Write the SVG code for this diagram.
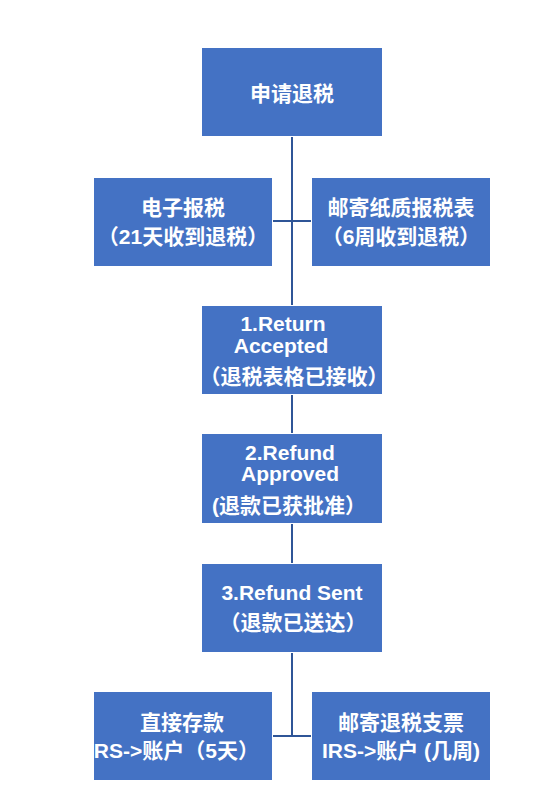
<svg xmlns="http://www.w3.org/2000/svg" width="550" height="800" viewBox="0 0 550 800">
<style>
.box{fill:#4472C4}
.t{fill:#ffffff;font-family:"Liberation Sans","Noto Sans CJK SC",sans-serif;font-weight:bold;font-size:21px;text-anchor:middle;dominant-baseline:central}
.ln{stroke:#2F5597;stroke-width:2;fill:none}
</style>
<rect width="550" height="800" fill="#ffffff"/>
<g id="connectors">
<line class="ln" x1="292" y1="137" x2="292" y2="305"/>
<line class="ln" x1="273" y1="221" x2="311" y2="221"/>
<line class="ln" x1="292" y1="395" x2="292" y2="433"/>
<line class="ln" x1="292" y1="524" x2="292" y2="563"/>
<line class="ln" x1="292" y1="653" x2="292" y2="736"/>
<line class="ln" x1="273" y1="736" x2="311" y2="736"/>
</g>
<g id="apply">
<rect class="box" x="202" y="48" width="180" height="88"/>
<text class="t" x="292" y="93">申请退税</text>
</g>
<g id="efile">
<rect class="box" x="94" y="178" width="178" height="88"/>
<text class="t" x="183" y="207">电子报税</text>
<text class="t" x="183" y="236">（21天收到退税）</text>
</g>
<g id="paper">
<rect class="box" x="312" y="178" width="178" height="88"/>
<text class="t" x="401" y="207">邮寄纸质报税表</text>
<text class="t" x="401" y="236">（6周收到退税）</text>
</g>
<g id="accepted">
<rect class="box" x="202" y="306" width="180" height="88"/>
<text class="t" x="283" y="323">1.Return</text>
<text class="t" x="281" y="345">Accepted</text>
<text class="t" x="294" y="376">（退税表格已接收）</text>
</g>
<g id="approved">
<rect class="box" x="202" y="434" width="180" height="89"/>
<text class="t" x="290" y="452">2.Refund</text>
<text class="t" x="290" y="473">Approved</text>
<text class="t" x="289" y="505">(退款已获批准）</text>
</g>
<g id="sent">
<rect class="box" x="202" y="564" width="180" height="88"/>
<text class="t" x="292" y="592">3.Refund Sent</text>
<text class="t" x="293" y="622">（退款已送达）</text>
</g>
<g id="deposit">
<rect class="box" x="94" y="692" width="178" height="88"/>
<text class="t" x="182" y="722">直接存款</text>
<text class="t" x="88" y="750" style="text-anchor:start">IRS-&gt;账户（5天）</text>
</g>
<g id="check">
<rect class="box" x="312" y="692" width="178" height="88"/>
<text class="t" x="401" y="722">邮寄退税支票</text>
<text class="t" x="401" y="750">IRS-&gt;账户 (几周)</text>
</g>
</svg>
